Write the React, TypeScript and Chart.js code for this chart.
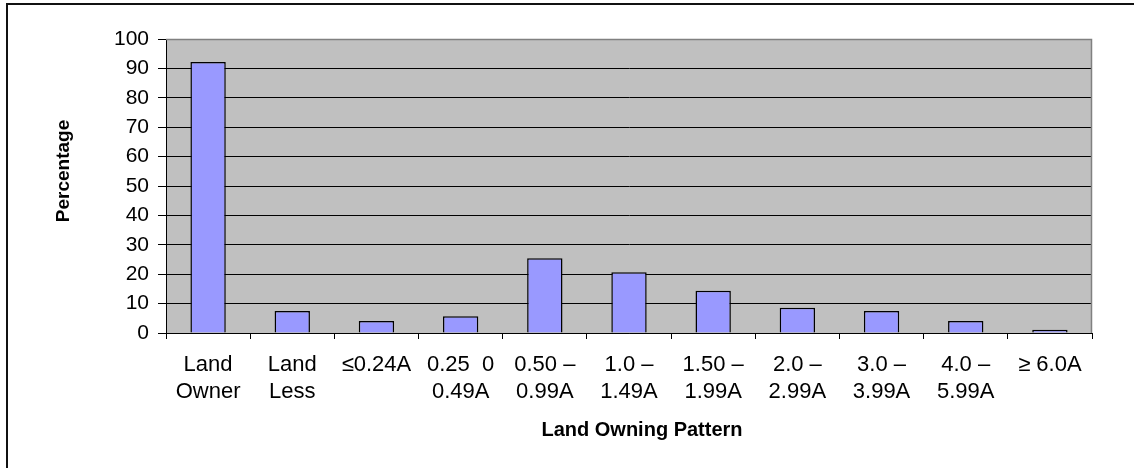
import React, { useEffect, useRef } from "react";
import { Chart, registerables } from "chart.js";

Chart.register(...registerables);

// Land holding categories (acres) and share of households in each, in percent
const categories: (string | string[])[] = [
  ["Land", "Owner"],
  ["Land", "Less"],
  "≤0.24A",
  ["0.25  0", "0.49A"],
  ["0.50 –", "0.99A"],
  ["1.0 –", "1.49A"],
  ["1.50 –", "1.99A"],
  ["2.0 –", "2.99A"],
  ["3.0 –", "3.99A"],
  ["4.0 –", "5.99A"],
  "≥ 6.0A",
];
const percentages: number[] = [92.2, 7.5, 4.1, 5.7, 25.4, 20.7, 14.4, 8.6, 7.5, 4.1, 1.1];
const yTicks: number[] = [0, 10, 20, 30, 40, 50, 60, 70, 80, 90, 100];
const xTitle = "Land Owning Pattern";
const yTitle = "Percentage";

const FONT = "'Liberation Sans', Arial, sans-serif";

// Gray plot background, frame lines and axis captions
const framePlugin = {
  id: "frame",
  beforeDraw(chart: any) {
    const { ctx, chartArea, width, height } = chart;
    ctx.save();
    ctx.fillStyle = "#ffffff";
    ctx.fillRect(0, 0, width, height);
    // outer chart border (top and left edges)
    ctx.fillStyle = "#111111";
    ctx.fillRect(6, 3, width, 2);
    ctx.fillRect(6, 3, 2, height);
    // plot area fill
    ctx.fillStyle = "#C0C0C0";
    ctx.fillRect(chartArea.left, chartArea.top, chartArea.right - chartArea.left, chartArea.bottom - chartArea.top);
    ctx.restore();
  },
  afterDraw(chart: any) {
    const { ctx, chartArea } = chart;
    ctx.save();
    // plot area border on top and right
    ctx.strokeStyle = "#808080";
    ctx.lineWidth = 1.5;
    ctx.beginPath();
    ctx.moveTo(chartArea.left, chartArea.top + 0.5);
    ctx.lineTo(chartArea.right - 0.5, chartArea.top + 0.5);
    ctx.lineTo(chartArea.right - 0.5, chartArea.bottom);
    ctx.stroke();

    ctx.fillStyle = "#000000";
    ctx.textAlign = "center";
    ctx.textBaseline = "middle";
    ctx.font = `bold 20px ${FONT}`;
    ctx.fillText(xTitle, (chartArea.left + chartArea.right) / 2 + 13, chartArea.bottom + 97);
    ctx.font = `bold 19px ${FONT}`;
    ctx.translate(chartArea.left - 102, (chartArea.top + chartArea.bottom) / 2 - 15);
    ctx.rotate(-Math.PI / 2);
    ctx.fillText(yTitle, 0, 0);
    ctx.restore();
  },
};

export default function App() {
  const canvasRef = useRef<HTMLCanvasElement | null>(null);

  useEffect(() => {
    if (!canvasRef.current) return;
    const chart = new Chart(canvasRef.current, {
      type: "bar",
      data: {
        labels: categories,
        datasets: [
          {
            data: percentages,
            backgroundColor: "#9999FF",
            borderColor: "#000000",
            borderWidth: 1.5,
            barPercentage: 0.42,
            categoryPercentage: 1,
          },
        ],
      },
      options: {
        animation: false,
        responsive: false,
        maintainAspectRatio: false,
        devicePixelRatio: 1,
        layout: { padding: { top: 39, right: 42, left: 0, bottom: 0 } },
        plugins: {
          legend: { display: false },
          tooltip: { enabled: false },
        },
        scales: {
          x: {
            offset: true,
            grid: {
              offset: true,
              drawOnChartArea: false,
              drawTicks: true,
              tickLength: 6,
              color: "#000000",
            },
            border: { display: true, color: "#000000", width: 1 },
            ticks: {
              color: "#000000",
              font: { family: FONT, size: 22, lineHeight: 1.25 },
              padding: 12,
              maxRotation: 0,
              autoSkip: false,
            },
            afterFit(scale: any) {
              scale.height = 135;
            },
          },
          y: {
            min: 0,
            max: 100,
            afterBuildTicks(scale: any) {
              scale.ticks = yTicks.map((v) => ({ value: v }));
            },
            grid: {
              color: (c: any) => (c.tick && c.tick.value === 100 ? "#808080" : "#000000"),
              tickColor: "#000000",
              tickLength: 8,
              lineWidth: 1,
            },
            border: { display: true, color: "#000000", width: 1 },
            ticks: {
              color: "#000000",
              font: { family: FONT, size: 21 },
              padding: 9,
            },
            afterFit(scale: any) {
              scale.width = 166;
            },
          },
        },
      },
      plugins: [framePlugin],
    });
    return () => chart.destroy();
  }, []);

  return (
    <div style={{ position: "absolute", left: 0, top: 0, width: 1134, height: 468 }}>
      <canvas ref={canvasRef} width={1134} height={468} style={{ width: 1134, height: 468 }} />
    </div>
  );
}
